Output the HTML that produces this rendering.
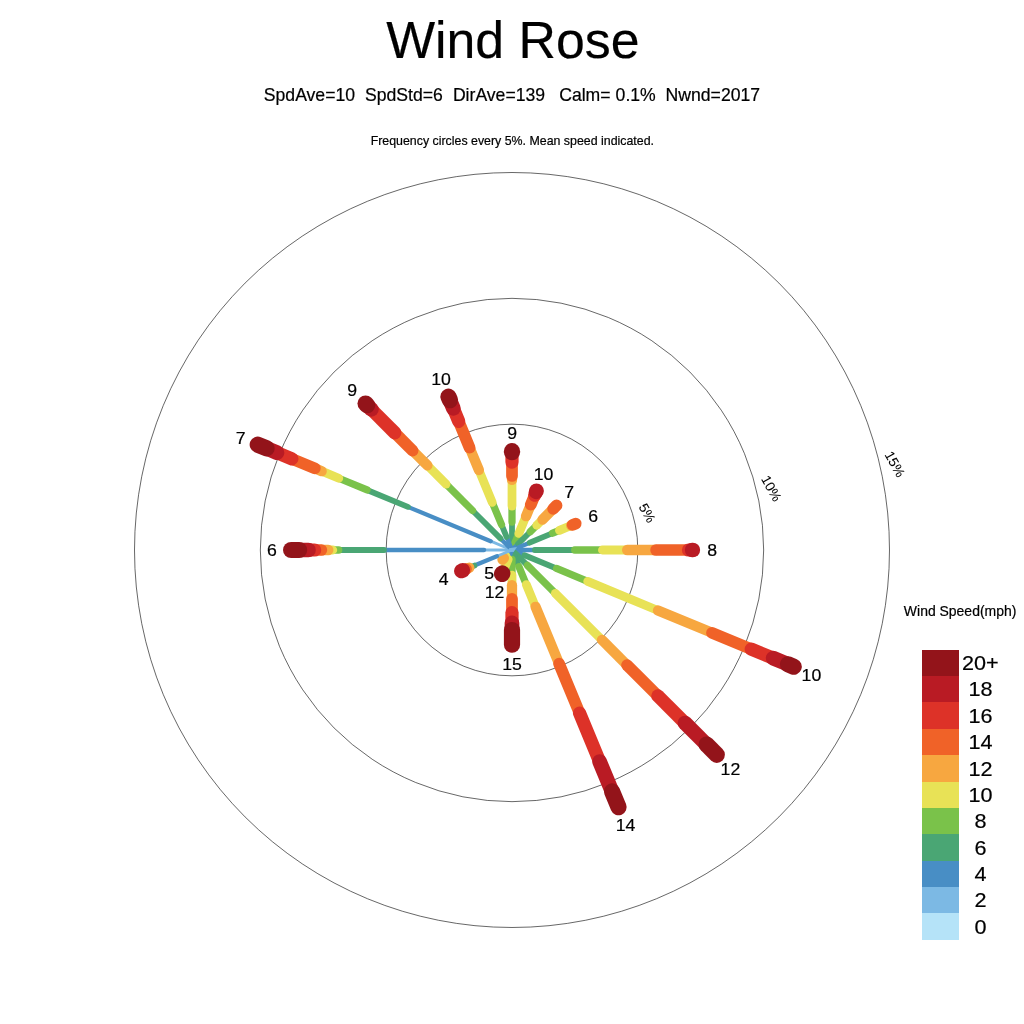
<!DOCTYPE html>
<html><head><meta charset="utf-8"><title>Wind Rose</title>
<style>html,body{margin:0;padding:0;background:#fff;overflow:hidden}svg{display:block}text{font-family:"Liberation Sans",Arial,Helvetica,sans-serif;fill:#000;stroke:#000;stroke-width:0.2px}</style></head><body>
<svg width="1024" height="1024" viewBox="0 0 1024 1024">
<rect width="1024" height="1024" fill="#fff"/>
<circle cx="512.0" cy="550.0" r="125.83" fill="none" stroke="#000" stroke-width="0.6"/>
<circle cx="512.0" cy="550.0" r="251.66" fill="none" stroke="#000" stroke-width="0.6"/>
<circle cx="512.0" cy="550.0" r="377.49" fill="none" stroke="#000" stroke-width="0.6"/>
<g fill="none" stroke-linecap="round">
<line x1="512.00" y1="548.00" x2="512.00" y2="542.00" stroke="#488EC5" stroke-width="4.31"/>
<line x1="512.00" y1="542.00" x2="512.00" y2="522.10" stroke="#4AA674" stroke-width="5.80"/>
<line x1="512.00" y1="522.10" x2="512.00" y2="506.10" stroke="#7AC24A" stroke-width="7.28"/>
<line x1="512.00" y1="506.10" x2="512.00" y2="479.90" stroke="#E8E256" stroke-width="8.77"/>
<line x1="512.00" y1="479.90" x2="512.00" y2="476.00" stroke="#F7A740" stroke-width="10.26"/>
<line x1="512.00" y1="476.00" x2="512.00" y2="462.10" stroke="#F06228" stroke-width="11.74"/>
<line x1="512.00" y1="462.10" x2="512.00" y2="453.00" stroke="#DD3228" stroke-width="13.23"/>
<line x1="512.00" y1="452.20" x2="512.00" y2="451.20" stroke="#93141A" stroke-width="16.20"/>
<line x1="512.77" y1="548.15" x2="518.85" y2="533.46" stroke="#7AC24A" stroke-width="7.28"/>
<line x1="518.85" y1="533.46" x2="526.01" y2="516.19" stroke="#E8E256" stroke-width="8.77"/>
<line x1="526.01" y1="516.19" x2="530.79" y2="504.64" stroke="#F7A740" stroke-width="10.26"/>
<line x1="530.79" y1="504.64" x2="534.69" y2="495.21" stroke="#F06228" stroke-width="11.74"/>
<line x1="534.69" y1="495.21" x2="536.11" y2="491.80" stroke="#DD3228" stroke-width="13.23"/>
<line x1="536.11" y1="491.80" x2="536.49" y2="490.87" stroke="#B91B24" stroke-width="14.71"/>
<line x1="513.41" y1="548.59" x2="518.15" y2="543.85" stroke="#488EC5" stroke-width="4.31"/>
<line x1="518.15" y1="543.85" x2="530.31" y2="531.69" stroke="#4AA674" stroke-width="5.80"/>
<line x1="530.31" y1="531.69" x2="536.75" y2="525.25" stroke="#7AC24A" stroke-width="7.28"/>
<line x1="536.75" y1="525.25" x2="542.48" y2="519.52" stroke="#E8E256" stroke-width="8.77"/>
<line x1="542.48" y1="519.52" x2="553.15" y2="508.85" stroke="#F7A740" stroke-width="10.26"/>
<line x1="553.15" y1="508.85" x2="556.55" y2="505.45" stroke="#F06228" stroke-width="11.74"/>
<line x1="513.85" y1="549.23" x2="529.74" y2="542.65" stroke="#488EC5" stroke-width="4.31"/>
<line x1="529.74" y1="542.65" x2="552.65" y2="533.16" stroke="#4AA674" stroke-width="5.80"/>
<line x1="552.65" y1="533.16" x2="559.40" y2="530.37" stroke="#7AC24A" stroke-width="7.28"/>
<line x1="559.40" y1="530.37" x2="571.13" y2="525.51" stroke="#E8E256" stroke-width="8.77"/>
<line x1="571.13" y1="525.51" x2="572.70" y2="524.86" stroke="#F7A740" stroke-width="10.26"/>
<line x1="572.70" y1="524.86" x2="575.75" y2="523.59" stroke="#F06228" stroke-width="11.74"/>
<line x1="515.00" y1="550.00" x2="534.90" y2="550.00" stroke="#488EC5" stroke-width="4.31"/>
<line x1="534.90" y1="550.00" x2="574.70" y2="550.00" stroke="#4AA674" stroke-width="5.80"/>
<line x1="574.70" y1="550.00" x2="602.40" y2="550.00" stroke="#7AC24A" stroke-width="7.28"/>
<line x1="602.40" y1="550.00" x2="627.10" y2="550.00" stroke="#E8E256" stroke-width="8.77"/>
<line x1="627.10" y1="550.00" x2="656.10" y2="550.00" stroke="#F7A740" stroke-width="10.26"/>
<line x1="656.10" y1="550.00" x2="688.50" y2="550.00" stroke="#F06228" stroke-width="11.74"/>
<line x1="688.50" y1="550.00" x2="692.00" y2="550.00" stroke="#DD3228" stroke-width="13.23"/>
<line x1="692.20" y1="550.00" x2="692.80" y2="550.00" stroke="#B91B24" stroke-width="14.71"/>
<line x1="513.85" y1="550.77" x2="524.56" y2="555.20" stroke="#488EC5" stroke-width="4.31"/>
<line x1="524.56" y1="555.20" x2="556.53" y2="568.45" stroke="#4AA674" stroke-width="5.80"/>
<line x1="556.53" y1="568.45" x2="587.67" y2="581.34" stroke="#7AC24A" stroke-width="7.28"/>
<line x1="587.67" y1="581.34" x2="657.97" y2="610.46" stroke="#E8E256" stroke-width="8.77"/>
<line x1="657.97" y1="610.46" x2="712.02" y2="632.85" stroke="#F7A740" stroke-width="10.26"/>
<line x1="712.02" y1="632.85" x2="751.28" y2="649.12" stroke="#F06228" stroke-width="11.74"/>
<line x1="751.28" y1="649.12" x2="773.13" y2="658.17" stroke="#DD3228" stroke-width="13.23"/>
<line x1="773.13" y1="658.17" x2="787.96" y2="664.31" stroke="#B91B24" stroke-width="14.71"/>
<line x1="787.96" y1="664.31" x2="793.69" y2="666.68" stroke="#93141A" stroke-width="16.20"/>
<line x1="512.00" y1="550.00" x2="514.83" y2="552.83" stroke="#488EC5" stroke-width="4.31"/>
<line x1="514.83" y1="552.83" x2="527.41" y2="565.41" stroke="#4AA674" stroke-width="5.80"/>
<line x1="527.41" y1="565.41" x2="555.35" y2="593.35" stroke="#7AC24A" stroke-width="7.28"/>
<line x1="555.35" y1="593.35" x2="601.94" y2="639.94" stroke="#E8E256" stroke-width="8.77"/>
<line x1="601.94" y1="639.94" x2="627.05" y2="665.05" stroke="#F7A740" stroke-width="10.26"/>
<line x1="627.05" y1="665.05" x2="657.88" y2="695.88" stroke="#F06228" stroke-width="11.74"/>
<line x1="657.88" y1="695.88" x2="684.99" y2="722.99" stroke="#DD3228" stroke-width="13.23"/>
<line x1="684.99" y1="722.99" x2="706.60" y2="744.60" stroke="#B91B24" stroke-width="14.71"/>
<line x1="706.60" y1="744.60" x2="716.78" y2="754.78" stroke="#93141A" stroke-width="16.20"/>
<line x1="512.00" y1="550.00" x2="513.15" y2="552.77" stroke="#488EC5" stroke-width="4.31"/>
<line x1="513.15" y1="552.77" x2="518.93" y2="566.72" stroke="#4AA674" stroke-width="5.80"/>
<line x1="518.93" y1="566.72" x2="526.31" y2="584.55" stroke="#7AC24A" stroke-width="7.28"/>
<line x1="526.31" y1="584.55" x2="535.54" y2="606.82" stroke="#E8E256" stroke-width="8.77"/>
<line x1="535.54" y1="606.82" x2="559.11" y2="663.73" stroke="#F7A740" stroke-width="10.26"/>
<line x1="559.11" y1="663.73" x2="579.54" y2="713.06" stroke="#F06228" stroke-width="11.74"/>
<line x1="579.54" y1="713.06" x2="599.63" y2="761.57" stroke="#DD3228" stroke-width="13.23"/>
<line x1="599.63" y1="761.57" x2="612.00" y2="791.41" stroke="#B91B24" stroke-width="14.71"/>
<line x1="612.00" y1="791.41" x2="618.54" y2="807.21" stroke="#93141A" stroke-width="16.20"/>
<line x1="512.00" y1="550.00" x2="512.00" y2="553.50" stroke="#488EC5" stroke-width="4.31"/>
<line x1="512.00" y1="553.50" x2="512.00" y2="559.30" stroke="#4AA674" stroke-width="5.80"/>
<line x1="512.00" y1="559.30" x2="512.00" y2="575.10" stroke="#7AC24A" stroke-width="7.28"/>
<line x1="512.00" y1="575.10" x2="512.00" y2="585.20" stroke="#E8E256" stroke-width="8.77"/>
<line x1="512.00" y1="585.20" x2="512.00" y2="598.90" stroke="#F7A740" stroke-width="10.26"/>
<line x1="512.00" y1="598.90" x2="512.00" y2="612.60" stroke="#F06228" stroke-width="11.74"/>
<line x1="512.00" y1="612.60" x2="512.00" y2="622.95" stroke="#DD3228" stroke-width="13.23"/>
<line x1="512.00" y1="622.95" x2="512.00" y2="630.10" stroke="#B91B24" stroke-width="14.71"/>
<line x1="512.00" y1="630.10" x2="512.00" y2="644.70" stroke="#93141A" stroke-width="16.20"/>
<line x1="512.00" y1="550.00" x2="510.28" y2="554.16" stroke="#488EC5" stroke-width="4.31"/>
<line x1="508.17" y1="559.24" x2="503.58" y2="570.33" stroke="#E8E256" stroke-width="8.77"/>
<line x1="502.32" y1="573.37" x2="502.09" y2="573.93" stroke="#93141A" stroke-width="16.20"/>
<line x1="512.00" y1="550.00" x2="509.17" y2="552.83" stroke="#488EC5" stroke-width="4.31"/>
<line x1="505.99" y1="556.01" x2="503.94" y2="558.06" stroke="#E8E256" stroke-width="8.77"/>
<line x1="503.94" y1="558.06" x2="502.45" y2="559.55" stroke="#F7A740" stroke-width="10.26"/>
<line x1="512.00" y1="550.00" x2="496.89" y2="556.26" stroke="#7CB9E4" stroke-width="2.83"/>
<line x1="496.89" y1="556.26" x2="474.40" y2="565.58" stroke="#488EC5" stroke-width="4.31"/>
<line x1="474.40" y1="565.58" x2="469.32" y2="567.68" stroke="#4AA674" stroke-width="5.80"/>
<line x1="469.32" y1="567.68" x2="465.99" y2="569.06" stroke="#F7A740" stroke-width="10.26"/>
<line x1="465.99" y1="569.06" x2="463.03" y2="570.28" stroke="#F06228" stroke-width="11.74"/>
<line x1="462.76" y1="570.40" x2="461.37" y2="570.97" stroke="#B91B24" stroke-width="14.71"/>
<line x1="512.00" y1="550.00" x2="484.10" y2="550.00" stroke="#7CB9E4" stroke-width="2.83"/>
<line x1="484.10" y1="550.00" x2="384.00" y2="550.00" stroke="#488EC5" stroke-width="4.31"/>
<line x1="384.00" y1="550.00" x2="338.70" y2="550.00" stroke="#4AA674" stroke-width="5.80"/>
<line x1="338.70" y1="550.00" x2="332.80" y2="550.00" stroke="#7AC24A" stroke-width="7.28"/>
<line x1="332.80" y1="550.00" x2="328.30" y2="550.00" stroke="#E8E256" stroke-width="8.77"/>
<line x1="328.30" y1="550.00" x2="321.30" y2="550.00" stroke="#F7A740" stroke-width="10.26"/>
<line x1="321.30" y1="550.00" x2="314.65" y2="550.00" stroke="#F06228" stroke-width="11.74"/>
<line x1="314.65" y1="550.00" x2="308.45" y2="550.00" stroke="#DD3228" stroke-width="13.23"/>
<line x1="308.45" y1="550.00" x2="299.10" y2="550.00" stroke="#B91B24" stroke-width="14.71"/>
<line x1="299.10" y1="550.00" x2="291.10" y2="550.00" stroke="#93141A" stroke-width="16.20"/>
<line x1="512.00" y1="550.00" x2="490.70" y2="541.18" stroke="#7CB9E4" stroke-width="2.83"/>
<line x1="490.70" y1="541.18" x2="407.88" y2="506.87" stroke="#488EC5" stroke-width="4.31"/>
<line x1="407.88" y1="506.87" x2="367.04" y2="489.96" stroke="#4AA674" stroke-width="5.80"/>
<line x1="367.04" y1="489.96" x2="338.77" y2="478.25" stroke="#7AC24A" stroke-width="7.28"/>
<line x1="338.77" y1="478.25" x2="321.68" y2="471.17" stroke="#E8E256" stroke-width="8.77"/>
<line x1="321.68" y1="471.17" x2="314.84" y2="468.34" stroke="#F7A740" stroke-width="10.26"/>
<line x1="314.84" y1="468.34" x2="291.84" y2="458.81" stroke="#F06228" stroke-width="11.74"/>
<line x1="291.84" y1="458.81" x2="276.92" y2="452.63" stroke="#DD3228" stroke-width="13.23"/>
<line x1="276.92" y1="452.63" x2="266.53" y2="448.32" stroke="#B91B24" stroke-width="14.71"/>
<line x1="266.53" y1="448.32" x2="257.75" y2="444.69" stroke="#93141A" stroke-width="16.20"/>
<line x1="509.17" y1="547.17" x2="500.40" y2="538.40" stroke="#488EC5" stroke-width="4.31"/>
<line x1="500.40" y1="538.40" x2="472.47" y2="510.47" stroke="#4AA674" stroke-width="5.80"/>
<line x1="472.47" y1="510.47" x2="446.10" y2="484.10" stroke="#7AC24A" stroke-width="7.28"/>
<line x1="446.10" y1="484.10" x2="427.43" y2="465.43" stroke="#E8E256" stroke-width="8.77"/>
<line x1="427.43" y1="465.43" x2="412.58" y2="450.58" stroke="#F7A740" stroke-width="10.26"/>
<line x1="412.58" y1="450.58" x2="394.76" y2="432.76" stroke="#F06228" stroke-width="11.74"/>
<line x1="394.76" y1="432.76" x2="371.39" y2="409.39" stroke="#DD3228" stroke-width="13.23"/>
<line x1="371.39" y1="409.39" x2="367.18" y2="405.18" stroke="#B91B24" stroke-width="14.71"/>
<line x1="367.18" y1="405.18" x2="365.56" y2="403.56" stroke="#93141A" stroke-width="16.20"/>
<line x1="511.23" y1="548.15" x2="506.57" y2="536.88" stroke="#488EC5" stroke-width="4.31"/>
<line x1="506.57" y1="536.88" x2="501.51" y2="524.69" stroke="#4AA674" stroke-width="5.80"/>
<line x1="501.51" y1="524.69" x2="492.25" y2="502.33" stroke="#7AC24A" stroke-width="7.28"/>
<line x1="492.25" y1="502.33" x2="478.90" y2="470.08" stroke="#E8E256" stroke-width="8.77"/>
<line x1="478.90" y1="470.08" x2="469.60" y2="447.63" stroke="#F7A740" stroke-width="10.26"/>
<line x1="469.60" y1="447.63" x2="458.69" y2="421.30" stroke="#F06228" stroke-width="11.74"/>
<line x1="458.69" y1="421.30" x2="453.32" y2="408.32" stroke="#DD3228" stroke-width="13.23"/>
<line x1="453.32" y1="408.32" x2="449.97" y2="400.24" stroke="#B91B24" stroke-width="14.71"/>
<line x1="449.97" y1="400.24" x2="448.47" y2="396.64" stroke="#93141A" stroke-width="16.20"/>
</g>
<polygon points="509.0,548.3 509.0,551.2 513.6,552.0 517.0,547.0" fill="#7CB9E4"/>
<text transform="translate(512.10,438.69) scale(1.04,1)" font-size="17" text-anchor="middle" xml:space="preserve">9</text>
<text transform="translate(543.60,480.19) scale(1.04,1)" font-size="17" text-anchor="middle" xml:space="preserve">10</text>
<text transform="translate(569.10,498.19) scale(1.04,1)" font-size="17" text-anchor="middle" xml:space="preserve">7</text>
<text transform="translate(593.10,522.19) scale(1.04,1)" font-size="17" text-anchor="middle" xml:space="preserve">6</text>
<text transform="translate(712.10,556.19) scale(1.04,1)" font-size="17" text-anchor="middle" xml:space="preserve">8</text>
<text transform="translate(811.40,680.59) scale(1.04,1)" font-size="17" text-anchor="middle" xml:space="preserve">10</text>
<text transform="translate(730.40,774.69) scale(1.04,1)" font-size="17" text-anchor="middle" xml:space="preserve">12</text>
<text transform="translate(625.50,831.49) scale(1.04,1)" font-size="17" text-anchor="middle" xml:space="preserve">14</text>
<text transform="translate(512.10,669.99) scale(1.04,1)" font-size="17" text-anchor="middle" xml:space="preserve">15</text>
<text transform="translate(494.60,597.99) scale(1.04,1)" font-size="17" text-anchor="middle" xml:space="preserve">12</text>
<text transform="translate(489.20,579.39) scale(1.04,1)" font-size="17" text-anchor="middle" xml:space="preserve">5</text>
<text transform="translate(443.70,584.99) scale(1.04,1)" font-size="17" text-anchor="middle" xml:space="preserve">4</text>
<text transform="translate(271.80,556.19) scale(1.04,1)" font-size="17" text-anchor="middle" xml:space="preserve">6</text>
<text transform="translate(240.60,443.99) scale(1.04,1)" font-size="17" text-anchor="middle" xml:space="preserve">7</text>
<text transform="translate(352.10,396.19) scale(1.04,1)" font-size="17" text-anchor="middle" xml:space="preserve">9</text>
<text transform="translate(441.10,385.19) scale(1.04,1)" font-size="17" text-anchor="middle" xml:space="preserve">10</text>
<text transform="translate(647.4,512.9) rotate(61) scale(0.2)" x="0" y="24.3" font-size="68" text-anchor="middle">5%</text>
<text transform="translate(771.5,488.4) rotate(61) scale(0.2)" x="0" y="24.3" font-size="68" text-anchor="middle">10%</text>
<text transform="translate(895,464) rotate(61) scale(0.2)" x="0" y="24.3" font-size="68" text-anchor="middle">15%</text>
<text transform="translate(512.80,57.70) scale(1,1)" font-size="51.8" text-anchor="middle" xml:space="preserve">Wind Rose</text>
<text transform="translate(263.80,101.30) scale(1.007,1)" font-size="17.5" text-anchor="start" xml:space="preserve">SpdAve=10</text>
<text transform="translate(365.00,101.30) scale(1.007,1)" font-size="17.5" text-anchor="start" xml:space="preserve">SpdStd=6</text>
<text transform="translate(452.90,101.30) scale(1.007,1)" font-size="17.5" text-anchor="start" xml:space="preserve">DirAve=139</text>
<text transform="translate(559.20,101.30) scale(1.007,1)" font-size="17.5" text-anchor="start" xml:space="preserve">Calm=</text>
<text transform="translate(615.60,101.30) scale(1.007,1)" font-size="17.5" text-anchor="start" xml:space="preserve">0.1%</text>
<text transform="translate(665.60,101.30) scale(1.007,1)" font-size="17.5" text-anchor="start" xml:space="preserve">Nwnd=2017</text>
<text transform="translate(512.30,145.40) scale(1.007,1)" font-size="12.3" text-anchor="middle" xml:space="preserve">Frequency circles every 5%. Mean speed indicated.</text>
<text transform="translate(960.10,616.40) scale(1.012,1)" font-size="13.8" text-anchor="middle" xml:space="preserve">Wind Speed(mph)</text>
<rect x="922" y="650" width="37" height="26" fill="#93141A" shape-rendering="crispEdges"/>
<rect x="922" y="676" width="37" height="26" fill="#B91B24" shape-rendering="crispEdges"/>
<rect x="922" y="702" width="37" height="27" fill="#DD3228" shape-rendering="crispEdges"/>
<rect x="922" y="729" width="37" height="26" fill="#F06228" shape-rendering="crispEdges"/>
<rect x="922" y="755" width="37" height="27" fill="#F7A740" shape-rendering="crispEdges"/>
<rect x="922" y="782" width="37" height="26" fill="#E8E256" shape-rendering="crispEdges"/>
<rect x="922" y="808" width="37" height="26" fill="#7AC24A" shape-rendering="crispEdges"/>
<rect x="922" y="834" width="37" height="27" fill="#4AA674" shape-rendering="crispEdges"/>
<rect x="922" y="861" width="37" height="26" fill="#488EC5" shape-rendering="crispEdges"/>
<rect x="922" y="887" width="37" height="26" fill="#7CB9E4" shape-rendering="crispEdges"/>
<rect x="922" y="913" width="37" height="27" fill="#B5E3F8" shape-rendering="crispEdges"/>
<text transform="translate(980.40,670.17) scale(1.065,1)" font-size="20.3" text-anchor="middle" xml:space="preserve">20+</text>
<text transform="translate(980.40,696.17) scale(1.065,1)" font-size="20.3" text-anchor="middle" xml:space="preserve">18</text>
<text transform="translate(980.40,722.67) scale(1.065,1)" font-size="20.3" text-anchor="middle" xml:space="preserve">16</text>
<text transform="translate(980.40,749.17) scale(1.065,1)" font-size="20.3" text-anchor="middle" xml:space="preserve">14</text>
<text transform="translate(980.40,775.67) scale(1.065,1)" font-size="20.3" text-anchor="middle" xml:space="preserve">12</text>
<text transform="translate(980.40,802.17) scale(1.065,1)" font-size="20.3" text-anchor="middle" xml:space="preserve">10</text>
<text transform="translate(980.40,828.17) scale(1.065,1)" font-size="20.3" text-anchor="middle" xml:space="preserve">8</text>
<text transform="translate(980.40,854.67) scale(1.065,1)" font-size="20.3" text-anchor="middle" xml:space="preserve">6</text>
<text transform="translate(980.40,881.17) scale(1.065,1)" font-size="20.3" text-anchor="middle" xml:space="preserve">4</text>
<text transform="translate(980.40,907.17) scale(1.065,1)" font-size="20.3" text-anchor="middle" xml:space="preserve">2</text>
<text transform="translate(980.40,933.67) scale(1.065,1)" font-size="20.3" text-anchor="middle" xml:space="preserve">0</text>
</svg></body></html>
